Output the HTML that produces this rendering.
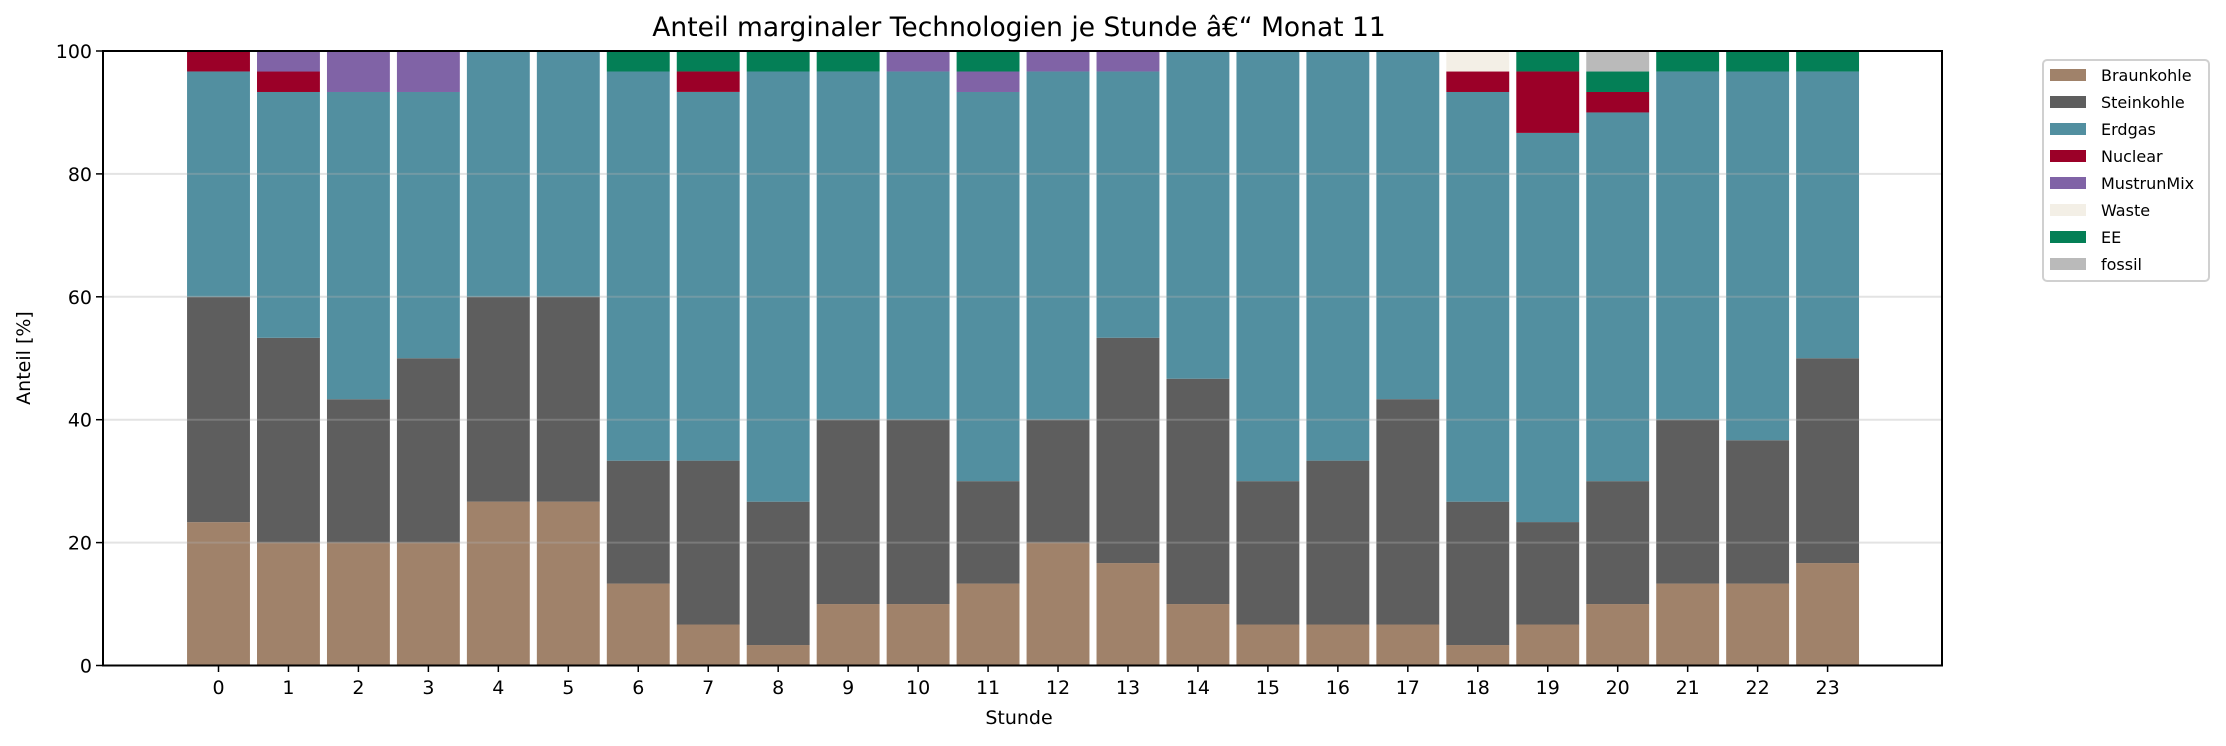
<!DOCTYPE html>
<html><head><meta charset="utf-8"><style>
html,body{margin:0;padding:0;background:#fff;}
svg{display:block;font-family:"DejaVu Sans","Liberation Sans",sans-serif;}
</style></head><body>
<svg id="chart" width="2226" height="746" viewBox="0 0 2226 746" xmlns="http://www.w3.org/2000/svg">
<text x="1019" y="36" font-size="26.5" text-anchor="middle" fill="#000">Anteil marginaler Technologien je Stunde â€“ Monat 11</text>
<g id="bars"></g>
<g id="grid"></g>
<rect x="103" y="51" width="1839" height="614.5" fill="none" stroke="#000" stroke-width="2"/>
<g id="axes"></g>
<text x="30" y="358" font-size="19" text-anchor="middle" transform="rotate(-90 30 358)">Anteil [%]</text>
<text x="1019" y="724" font-size="19" text-anchor="middle">Stunde</text>
<g id="legend"></g>
</svg>
<script>
const hours = [0,1,2,3,4,5,6,7,8,9,10,11,12,13,14,15,16,17,18,19,20,21,22,23];
const seriesNames = ["Braunkohle","Steinkohle","Erdgas","Nuclear","MustrunMix","Waste","EE","fossil"];
const braunkohle = [23.33,20,20,20,26.67,26.67,13.33,6.67,3.33,10,10,13.33,20,16.67,10,6.67,6.67,6.67,3.33,6.67,10,13.33,13.33,16.67];
const steinkohle = [36.67,33.33,23.33,30,33.33,33.33,20,26.67,23.33,30,30,16.67,20,36.67,36.67,23.33,26.67,36.67,23.33,16.67,20,26.67,23.33,33.33];
const erdgas = [36.67,40,50,43.33,40,40,63.33,60,70,56.67,56.67,63.33,56.67,43.33,53.33,70,66.67,56.67,66.67,63.33,60,56.67,60,46.67];
const nuclear = [3.33,3.33,0,0,0,0,0,3.33,0,0,0,0,0,0,0,0,0,0,3.33,10,3.33,0,0,0];
const mustrun = [0,3.33,6.67,6.67,0,0,0,0,0,0,3.33,3.33,3.33,3.33,0,0,0,0,0,0,0,0,0,0];
const waste = [0,0,0,0,0,0,0,0,0,0,0,0,0,0,0,0,0,0,3.33,0,0,0,0,0];
const ee = [0,0,0,0,0,0,3.33,3.33,3.33,3.33,0,3.33,0,0,0,0,0,0,0,3.33,3.33,3.33,3.33,3.33];
const fossil = [0,0,0,0,0,0,0,0,0,0,0,0,0,0,0,0,0,0,0,0,3.33,0,0,0];
const yTicks = [0,20,40,60,80,100];
const colors = ["#a0826a","#5e5e5e","#528fa0","#9b0028","#8063a6","#f3efe6","#047f56","#bababa"];
const series = [braunkohle,steinkohle,erdgas,nuclear,mustrun,waste,ee,fossil];
const NS="http://www.w3.org/2000/svg";
const x = i => 218.5 + i*69.96;
const y = v => 665.5 - v*6.145;
const bw = 62.9;
const mk=(t,a)=>{const e=document.createElementNS(NS,t);for(const k in a)e.setAttribute(k,a[k]);return e;};
const bars=document.getElementById('bars');
hours.forEach((h,i)=>{
  let base=0;
  series.forEach((s,k)=>{
    const v=s[i]; if(!v) return;
    const r=mk('rect',{x:x(i)-bw/2,y:y(base+v),width:bw,height:y(base)-y(base+v),fill:colors[k]});
    
    
    bars.appendChild(r); base+=v;
  });
});
const grid=document.getElementById('grid'), axes=document.getElementById('axes');
yTicks.forEach(t=>{
  if(t>0&&t<100){const l=mk('line',{x1:103,x2:1942,y1:y(t),y2:y(t),stroke:'#b0b0b0','stroke-opacity':0.35,'stroke-width':2});
  
  
  grid.appendChild(l);}
  const tk=mk('line',{x1:96,x2:103,y1:y(t),y2:y(t),stroke:'#000','stroke-width':1.5});
  
  
  axes.appendChild(tk);
  const tx=mk('text',{x:92,y:y(t)+7,'font-size':19,'text-anchor':'end'});tx.textContent=t;
  
  
  axes.appendChild(tx);
});
hours.forEach((h,i)=>{
  const tk=mk('line',{x1:x(i),x2:x(i),y1:665.5,y2:672,stroke:'#000','stroke-width':1.5});
  
  
  axes.appendChild(tk);
  const tx=mk('text',{x:x(i),y:694,'font-size':19,'text-anchor':'middle'});tx.textContent=h;
  
  
  axes.appendChild(tx);
});
const lg=document.getElementById('legend');
const box=mk('rect',{x:2043,y:60,width:166,height:221,rx:4,fill:'#fff',stroke:'#d0d0d0','stroke-width':2});


lg.appendChild(box);
seriesNames.forEach((n,k)=>{
  const cy=75+k*27;
  const sw=mk('rect',{x:2050,y:cy-6,width:36,height:12,fill:colors[k]});
  
  
  lg.appendChild(sw);
  const t=mk('text',{x:2101,y:cy+6,'font-size':16});t.textContent=n;
  
  
  lg.appendChild(t);
});
</script>
</body></html>
